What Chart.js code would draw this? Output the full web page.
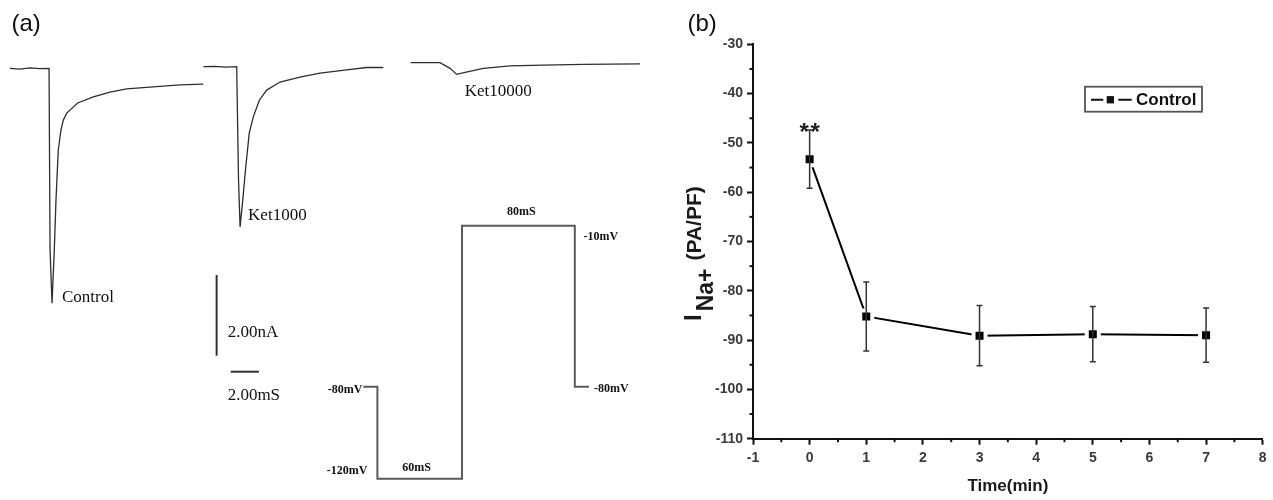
<!DOCTYPE html>
<html><head><meta charset="utf-8">
<script src="https://cdn.jsdelivr.net/npm/chart.js@4.4.1/dist/chart.umd.min.js"></script>
<style>
html,body{margin:0;padding:0;background:#fff;}
#wrap{position:relative;width:1273px;height:500px;overflow:hidden;background:#fff;}
#ca{position:absolute;left:0;top:0;}
#cb{position:absolute;left:680px;top:0;}
</style></head><body>
<div id="wrap">
<canvas id="ca" width="680" height="500"></canvas>
<canvas id="cb" width="593" height="500"></canvas>
</div>
<script>
// ================= DATA =================
// Panel (b): I_Na+ current density vs time
const timeMin = [0, 1, 3, 5, 7];
const inaMean = [-53.3, -85.2, -89.1, -88.8, -89.0];
const inaErr  = [5.9, 7.0, 6.1, 5.6, 5.5];
const sigMarks = ['**', '', '', '', ''];
const seriesName = 'Control';
const xTickRange = [-1, 8];
const yTickRange = [-110, -30];
const xTitle = 'Time(min)';
const yTitleMain = 'I', yTitleSub = 'Na+', yTitleUnit = '(PA/PF)';

// Panel (a): current traces (time in ms from trace start, current in nA relative to baseline)
const traceNames = ['Control', 'Ket1000', 'Ket10000'];
const controlT = [0, 0.7, 1.41, 2.1, 2.76, 2.83, 2.97, 3.13, 3.25, 3.41, 3.60, 3.77, 4.01, 4.78, 5.89, 7.07, 8.25, 10.11, 12.01, 13.66];
const controlI = [0, -0.02, 0.01, -0.01, 0, -4.5, -5.82, -4.50, -3.26, -2.03, -1.53, -1.28, -1.11, -0.86, -0.71, -0.59, -0.51, -0.46, -0.41, -0.39];
const ket1000T = [0, 0.8, 1.6, 2.36, 2.49, 2.60, 2.79, 3.00, 3.25, 3.53, 3.96, 4.48, 5.42, 6.83, 8.25, 10.13, 11.55, 12.72];
const ket1000I = [0, 0.01, -0.01, 0, -2.81, -3.97, -3.30, -2.49, -1.64, -1.25, -0.83, -0.58, -0.38, -0.26, -0.16, -0.08, -0.02, -0.02];
const ket10000T = [0, 2.07, 2.78, 3.25, 3.84, 5.14, 7.02, 9.37, 12.2, 16.21];
const ket10000I = [0, 0, -0.14, -0.29, -0.24, -0.14, -0.08, -0.06, -0.04, -0.03];
// Voltage protocol (ms, mV)
const protocolT = [0, 10, 10, 70, 70, 150, 150, 160];
const protocolV = [-80, -80, -120, -120, -10, -10, -80, -80];
// Scale bars
const scaleBarCurrent = 2.00; // nA
const scaleBarTime = 2.00;    // ms

// ================= LAYOUT (panel a) =================
const A = {
  pxPerMs: 14.15, pxPerNa: 40.35,
  protoPxPerMs: 1.41, protoStartPx: 363.3,
  protoPxPerMv: 2.3, protoRefMv: -70, protoRefPx: 363.8,
  W: 680, H: 500
};
const traceLayout = [
  {x0: 0.707, y0: -1.693, lx: 10, ly: -6},
  {x0: 14.367, y0: -1.653, lx: 8, ly: -11},
  {x0: 29.025, y0: -1.554, lx: 8, ly: 17}
];
const vBar = {x: 15.31, y: -6.815};
const hBar = {x: 16.30, y: -9.212};

const traceT = [controlT, ket1000T, ket10000T];
const traceI = [controlI, ket1000I, ket10000I];

const traceDatasets = traceNames.map((n, k) => ({
  label: n,
  data: traceT[k].map((t, j) => ({x: traceLayout[k].x0 + t, y: traceLayout[k].y0 + traceI[k][j]})),
  showLine: true, borderColor: '#2e2e2e', borderWidth: 1.3, pointRadius: 0,
  xAxisID: 'x', yAxisID: 'y'
}));

const panelAPlugin = {
  id: 'panelA',
  afterDraw(chart) {
    const {ctx, scales: {x, y, x2, y2}} = chart;
    ctx.save();
    ctx.fillStyle = '#111';
    ctx.font = '24px "Liberation Sans"';
    ctx.textAlign = 'left'; ctx.textBaseline = 'alphabetic';
    ctx.fillText('(a)', 11.5, 30.5);
    ctx.font = '17px "Liberation Serif"';
    ctx.textBaseline = 'middle';
    traceNames.forEach((n, k) => {
      const I = traceI[k]; let m = 0;
      I.forEach((v, j) => { if (v < I[m]) m = j; });
      const L = traceLayout[k];
      ctx.fillText(n, x.getPixelForValue(L.x0 + traceT[k][m]) + L.lx, y.getPixelForValue(L.y0 + I[m]) + L.ly);
    });
    const vx = x.getPixelForValue(vBar.x);
    const vMid = (y.getPixelForValue(vBar.y) + y.getPixelForValue(vBar.y - scaleBarCurrent)) / 2;
    ctx.fillText(scaleBarCurrent.toFixed(2) + 'nA', vx + 11, vMid + 17.4);
    ctx.fillText(scaleBarTime.toFixed(2) + 'mS', x.getPixelForValue(hBar.x) - 3, y.getPixelForValue(hBar.y) + 24.3);
    ctx.font = 'bold 12px "Liberation Serif"';
    const px = t => x2.getPixelForValue(t), py = v => y2.getPixelForValue(v);
    ctx.textAlign = 'right';
    ctx.fillText(protocolV[0] + 'mV', px(protocolT[0]) - 1, py(protocolV[0]) + 3);
    ctx.fillText(protocolV[2] + 'mV', px(protocolT[2]) - 10, py(protocolV[2]) - 8);
    ctx.textAlign = 'center';
    ctx.fillText((protocolT[3] - protocolT[2]) + 'mS', (px(protocolT[2]) + px(protocolT[3])) / 2 - 3, py(protocolV[2]) - 10.6);
    ctx.fillText((protocolT[5] - protocolT[4]) + 'mS', (px(protocolT[4]) + px(protocolT[5])) / 2 + 3, py(protocolV[4]) - 13.4);
    ctx.textAlign = 'left';
    ctx.fillText(protocolV[4] + 'mV', px(protocolT[5]) + 8.7, py(protocolV[4]) + 11);
    ctx.fillText(protocolV[7] + 'mV', px(protocolT[7]) + 5, py(protocolV[7]) + 2);
    ctx.restore();
  }
};

new Chart(document.getElementById('ca'), {
  type: 'scatter',
  data: {
    datasets: [
      ...traceDatasets,
      {label: 'protocol', data: protocolT.map((t, j) => ({x: t, y: protocolV[j]})), showLine: true,
       borderColor: '#5a5a5a', borderWidth: 2, pointRadius: 0, xAxisID: 'x2', yAxisID: 'y2'},
      {label: 'barI', data: [{x: vBar.x, y: vBar.y}, {x: vBar.x, y: vBar.y - scaleBarCurrent}], showLine: true,
       borderColor: '#333', borderWidth: 2, pointRadius: 0, xAxisID: 'x', yAxisID: 'y'},
      {label: 'barT', data: [{x: hBar.x, y: hBar.y}, {x: hBar.x + scaleBarTime, y: hBar.y}], showLine: true,
       borderColor: '#333', borderWidth: 2, pointRadius: 0, xAxisID: 'x', yAxisID: 'y'}
    ]
  },
  options: {
    responsive: false, animation: false, devicePixelRatio: 1,
    layout: {padding: 0, autoPadding: false},
    plugins: {legend: {display: false}, tooltip: {enabled: false}},
    scales: {
      x: {type: 'linear', display: false, min: 0, max: A.W / A.pxPerMs},
      y: {type: 'linear', display: false, min: -A.H / A.pxPerNa, max: 0},
      x2: {type: 'linear', display: false, position: 'top', min: -A.protoStartPx / A.protoPxPerMs, max: (A.W - A.protoStartPx) / A.protoPxPerMs},
      y2: {type: 'linear', display: false, position: 'right', min: A.protoRefMv - (A.H - A.protoRefPx) / A.protoPxPerMv, max: A.protoRefMv + A.protoRefPx / A.protoPxPerMv}
    }
  },
  plugins: [panelAPlugin]
});

// ================= PANEL (b) =================
const panelBPlugin = {
  id: 'panelB',
  afterDatasetsDraw(chart) {
    const {ctx, scales: {x, y}} = chart;
    ctx.save();
    ctx.strokeStyle = '#333'; ctx.lineWidth = 1.5;
    timeMin.forEach((t, i) => {
      const px = x.getPixelForValue(t);
      const yt = y.getPixelForValue(inaMean[i] + inaErr[i]);
      const yb = y.getPixelForValue(inaMean[i] - inaErr[i]);
      ctx.beginPath();
      ctx.moveTo(px, yt); ctx.lineTo(px, yb);
      ctx.moveTo(px - 3, yt); ctx.lineTo(px + 3, yt);
      ctx.moveTo(px - 3, yb); ctx.lineTo(px + 3, yb);
      ctx.stroke();
      if (sigMarks[i]) {
        ctx.fillStyle = '#222';
        ctx.font = 'bold 24px "Liberation Sans"';
        ctx.textAlign = 'center'; ctx.textBaseline = 'alphabetic';
        const chars = sigMarks[i].split('');
        chars.forEach((c, k) => ctx.fillText(c, px + (k - (chars.length - 1) / 2) * 11, yt + 10));
      }
    });
    ctx.restore();
  },
  afterDraw(chart) {
    const {ctx, scales: {x, y}} = chart;
    ctx.save();
    ctx.strokeStyle = '#111'; ctx.lineWidth = 2;
    for (let v = yTickRange[0] + 5; v < yTickRange[1]; v += 10) {
      const py = y.getPixelForValue(v);
      ctx.beginPath(); ctx.moveTo(y.right - 3.5, py); ctx.lineTo(y.right, py); ctx.stroke();
    }
    for (let v = xTickRange[0] + 0.5; v < xTickRange[1]; v += 1) {
      const px = x.getPixelForValue(v);
      ctx.beginPath(); ctx.moveTo(px, x.top); ctx.lineTo(px, x.top + 3.5); ctx.stroke();
    }
    ctx.fillStyle = '#111';
    ctx.font = '24px "Liberation Sans"';
    ctx.textAlign = 'left'; ctx.textBaseline = 'alphabetic';
    ctx.fillText('(b)', 7.5, 31);
    // y title with subscript
    ctx.save();
    ctx.translate(21, 321);
    ctx.rotate(-Math.PI / 2);
    ctx.fillStyle = '#1a1a1a';
    ctx.font = 'bold 24px "Liberation Sans"';
    ctx.fillText(yTitleMain, 0, 0);
    let w = ctx.measureText(yTitleMain).width + 3;
    ctx.font = 'bold 23px "Liberation Sans"';
    ctx.fillText(yTitleSub, w, 12);
    w += ctx.measureText(yTitleSub).width + 8;
    ctx.font = 'bold 21px "Liberation Sans"';
    ctx.fillText(yTitleUnit, w, 0);
    ctx.restore();
    // legend
    const lg = {x: 405, y: 86.7, w: 117, h: 25};
    ctx.strokeStyle = '#555'; ctx.lineWidth = 1.8;
    ctx.strokeRect(lg.x, lg.y, lg.w, lg.h);
    const cy = lg.y + lg.h / 2 + 0.5;
    ctx.strokeStyle = '#111'; ctx.lineWidth = 2;
    ctx.beginPath();
    ctx.moveTo(lg.x + 6, cy); ctx.lineTo(lg.x + 18.3, cy);
    ctx.moveTo(lg.x + 33.3, cy); ctx.lineTo(lg.x + 46.7, cy);
    ctx.stroke();
    ctx.fillStyle = '#111';
    ctx.fillRect(lg.x + 21.7, cy - 3.6, 7.3, 7.3);
    ctx.font = 'bold 17px "Liberation Sans"';
    ctx.textBaseline = 'middle';
    ctx.fillText(chart.data.datasets[0].label, lg.x + 51, cy + 0.5);
    ctx.restore();
  }
};

const tickFont = {family: '"Liberation Sans"', weight: 'bold', size: 14};
new Chart(document.getElementById('cb'), {
  type: 'scatter',
  data: {
    datasets: [{
      label: seriesName,
      data: timeMin.map((t, i) => ({x: t, y: inaMean[i]})),
      showLine: true, borderColor: '#000', borderWidth: 2,
      pointStyle: 'rect', pointRadius: 8.5, pointHoverRadius: 8.5,
      pointBackgroundColor: '#000', pointBorderColor: '#fff', pointBorderWidth: 4
    }]
  },
  options: {
    responsive: false, animation: false, devicePixelRatio: 1,
    layout: {padding: {top: 44.3, right: 10.3, left: 0, bottom: 0}, autoPadding: false},
    plugins: {legend: {display: false}, tooltip: {enabled: false}},
    scales: {
      x: {
        type: 'linear', min: xTickRange[0], max: xTickRange[1],
        ticks: {stepSize: 1, font: tickFont, color: '#3a3a3a', padding: 5, maxRotation: 0, autoSkip: false},
        grid: {drawOnChartArea: false, tickLength: 6, tickWidth: 2, tickColor: '#111'},
        border: {color: '#111', width: 2},
        title: {display: true, text: xTitle, font: {family: '"Liberation Sans"', weight: 'bold', size: 17}, color: '#1a1a1a', padding: {top: 0, bottom: 3}},
        afterFit(s) { s.height = 61.3; }
      },
      y: {
        type: 'linear', min: yTickRange[0], max: yTickRange[1],
        ticks: {stepSize: 10, font: tickFont, color: '#3a3a3a', padding: 4},
        grid: {drawOnChartArea: false, tickLength: 6, tickWidth: 2, tickColor: '#111'},
        border: {color: '#111', width: 2},
        afterFit(s) { s.width = 73; }
      }
    }
  },
  plugins: [panelBPlugin]
});
</script>
</body></html>
